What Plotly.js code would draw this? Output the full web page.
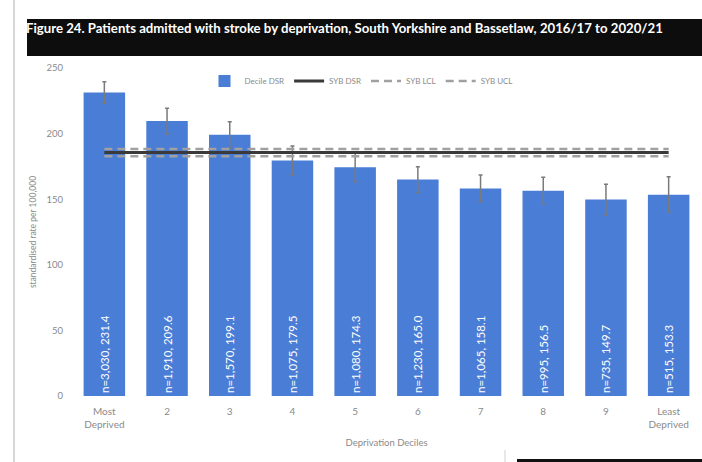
<!DOCTYPE html>
<html>
<head>
<meta charset="utf-8">
<script src="https://cdn.plot.ly/plotly-3.0.1.min.js"></script>
<style>
html,body{margin:0;padding:0;background:#fff;}
#chart{width:702px;height:462px;}
</style>
</head>
<body>
<div id="chart"></div>
<script>
// ---- data ----
var categories = ["Most<br>Deprived", "2", "3", "4", "5", "6", "7", "8", "9", "Least<br>Deprived"];
var counts = ["3,030", "1,910", "1,570", "1,075", "1,080", "1,230", "1,065", "995", "735", "515"];
var decileDSR = [231.4, 209.6, 199.1, 179.5, 174.3, 165.0, 158.1, 156.5, 149.7, 153.3];
var upperCI = [239.6, 219.3, 209.1, 190.5, 185.0, 174.7, 168.4, 166.7, 161.3, 167.1];
var lowerCI = [223.1, 199.7, 189.0, 168.4, 163.3, 155.2, 148.1, 146.8, 138.0, 140.5];
var sybDSR = 185.5;
var sybLCL = 182.8;
var sybUCL = 188.3;
var yTicks = [0, 50, 100, 150, 200, 250];
var titleText = "Figure 24. Patients admitted with stroke by deprivation, South Yorkshire and Bassetlaw, 2016/17 to 2020/21";

// ---- build ----
var barText = categories.map(function(c, i){ return "n=" + counts[i] + ", " + decileDSR[i].toFixed(1); });
var errPlus = decileDSR.map(function(v, i){ return upperCI[i] - v; });
var errMinus = decileDSR.map(function(v, i){ return v - lowerCI[i]; });
function flat(v){ return categories.map(function(){ return v; }); }

var font = "Lato, 'Open Sans', sans-serif";
var grey = "#8a8a8a";

var traces = [
  {
    type: "bar", name: "Decile DSR", x: categories, y: decileDSR,
    marker: {color: "#4a7dd6"},
    text: barText, textposition: "inside", insidetextanchor: "start",
    textangle: -90, constraintext: "none",
    textfont: {color: "#ffffff", size: 11.5, family: font},
    error_y: {type: "data", symmetric: false, array: errPlus, arrayminus: errMinus,
              color: "#7a7a7a", thickness: 1.5, width: 2},
    hoverinfo: "none"
  },
  {
    type: "scatter", mode: "lines", name: "SYB DSR", x: categories, y: flat(sybDSR),
    line: {color: "#3a3a3a", width: 3}
  },
  {
    type: "scatter", mode: "lines", name: "SYB LCL", x: categories, y: flat(sybLCL),
    line: {color: "#a0a0a0", width: 2.5, dash: "8px,5px"}
  },
  {
    type: "scatter", mode: "lines", name: "SYB UCL", x: categories, y: flat(sybUCL),
    line: {color: "#a0a0a0", width: 2.5, dash: "8px,5px"}
  }
];

var L = 73, T = 68, W = 627, H = 328;
function px(x){ return (x - L) / W; }
function py(y){ return (T + H - y) / H; }

var layout = {
  width: 702, height: 462,
  margin: {l: L, r: 702 - L - W, t: T, b: 462 - T - H, pad: 0},
  paper_bgcolor: "#ffffff", plot_bgcolor: "#ffffff",
  font: {family: font, color: grey, size: 9},
  bargap: 0.338,
  showlegend: true,
  legend: {orientation: "h", x: px(361), xanchor: "center", y: py(81), yanchor: "middle",
           font: {size: 8, color: grey}, bgcolor: "rgba(0,0,0,0)", itemwidth: 30,
           traceorder: "normal"},
  xaxis: {
    type: "category", showgrid: false, showline: false, zeroline: false, ticks: "",
    ticklabelstandoff: 8, tickfont: {size: 10, color: grey}, automargin: false,
    title: {text: "Deprivation Deciles", font: {size: 9.5, color: grey}, standoff: 10}
  },
  yaxis: {
    range: [0, 250], tickvals: yTicks, showgrid: false, showline: false, zeroline: false,
    ticks: "", ticklabelstandoff: 9, tickfont: {size: 9.5, color: grey}, automargin: false,
    title: {text: "standardised rate per 100,000", font: {size: 8.5, color: grey}, standoff: 8}
  },
  shapes: [
    {type: "rect", xref: "paper", yref: "paper", x0: px(27), x1: px(704), y0: py(56), y1: py(19),
     fillcolor: "#0d0d0d", line: {width: 0}, layer: "below"},
    {type: "line", xref: "paper", yref: "paper", x0: px(14), x1: px(14), y0: py(0), y1: py(462),
     line: {color: "#c8c8c8", width: 1.5}},
    {type: "line", xref: "paper", yref: "paper", x0: px(505), x1: px(505), y0: py(450), y1: py(462),
     line: {color: "#d0d0d0", width: 1}},
    {type: "rect", xref: "paper", yref: "paper", x0: px(517), x1: px(704), y0: py(463), y1: py(459),
     fillcolor: "#111111", line: {width: 0}}
  ],
  annotations: [
    {xref: "paper", yref: "paper", x: px(24), y: py(28), xanchor: "left", yanchor: "middle",
     text: "<b>" + titleText + "</b>", showarrow: false,
     font: {family: font, size: 13.2, color: "#ffffff"}}
  ]
};

Plotly.newPlot("chart", traces, layout, {displayModeBar: false, staticPlot: true});
</script>
</body>
</html>
